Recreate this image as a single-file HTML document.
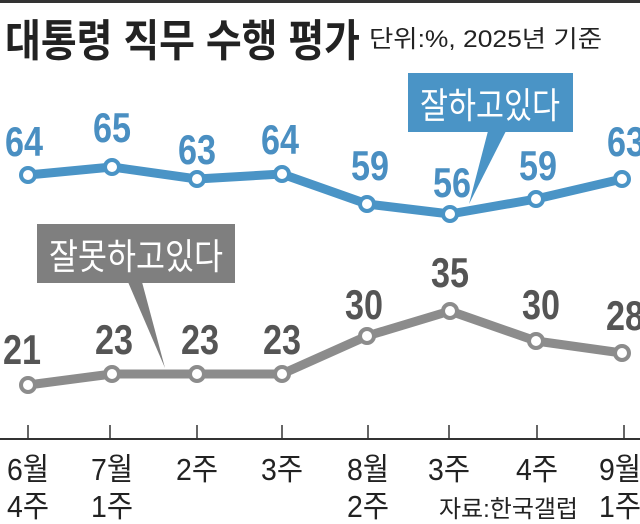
<!DOCTYPE html>
<html><head><meta charset="utf-8"><style>
html,body{margin:0;padding:0;background:#fff;}
svg{display:block;}
text{font-family:"Liberation Sans","Noto Sans CJK KR",sans-serif;}
</style></head><body>
<svg width="640" height="524" viewBox="0 0 640 524" xmlns="http://www.w3.org/2000/svg">
<rect x="0" y="0" width="640" height="3" fill="#333"/>
<text x="5" y="56" font-size="44" font-weight="bold" fill="#222" textLength="355" lengthAdjust="spacingAndGlyphs">대통령 직무 수행 평가</text>
<text x="369" y="47" font-size="24" fill="#222" textLength="233" lengthAdjust="spacingAndGlyphs">단위:%, 2025년 기준</text>

<rect x="408" y="73" width="165" height="59" fill="#4a94c6"/>
<polygon points="488,131 506,131 469,204" fill="#4a94c6"/>
<text x="490" y="118" font-size="36" fill="#fff" text-anchor="middle" textLength="140" lengthAdjust="spacingAndGlyphs">잘하고있다</text>

<rect x="37" y="224" width="198" height="59" fill="#7f7f7f"/>
<polygon points="128,282 142,282 165,368" fill="#7f7f7f"/>
<text x="136" y="269" font-size="36" fill="#fff" text-anchor="middle" textLength="174" lengthAdjust="spacingAndGlyphs">잘못하고있다</text>

<polyline points="28,175 112,167 197,179 282,174 367,204 450,214 536,199 622,179" fill="none" stroke="#4a94c6" stroke-width="9" stroke-linejoin="round"/>
<g fill="#fff" stroke="#4a94c6" stroke-width="4">
<circle cx="28" cy="175" r="7"/><circle cx="112" cy="167" r="7"/><circle cx="197" cy="179" r="7"/><circle cx="282" cy="174" r="7"/><circle cx="367" cy="204" r="7"/><circle cx="450" cy="214" r="7"/><circle cx="536" cy="199" r="7"/><circle cx="622" cy="179" r="7"/>
</g>
<g font-size="42" font-weight="bold" fill="#4a8fc2" text-anchor="middle">
<text x="24" y="156" textLength="38" lengthAdjust="spacingAndGlyphs">64</text>
<text x="112" y="142" textLength="38" lengthAdjust="spacingAndGlyphs">65</text>
<text x="197" y="164" textLength="38" lengthAdjust="spacingAndGlyphs">63</text>
<text x="280" y="154" textLength="38" lengthAdjust="spacingAndGlyphs">64</text>
<text x="370" y="180" textLength="38" lengthAdjust="spacingAndGlyphs">59</text>
<text x="452" y="197" textLength="38" lengthAdjust="spacingAndGlyphs">56</text>
<text x="538" y="180" textLength="38" lengthAdjust="spacingAndGlyphs">59</text>
<text x="626" y="156" textLength="38" lengthAdjust="spacingAndGlyphs">63</text>
</g>

<polyline points="28,385 112,374 197,374 282,374 367,336 450,311 536,341 622,353" fill="none" stroke="#8c8c8c" stroke-width="9" stroke-linejoin="round"/>
<g fill="#fff" stroke="#8c8c8c" stroke-width="4">
<circle cx="28" cy="385" r="7"/><circle cx="112" cy="374" r="7"/><circle cx="197" cy="374" r="7"/><circle cx="282" cy="374" r="7"/><circle cx="367" cy="336" r="7"/><circle cx="450" cy="311" r="7"/><circle cx="536" cy="341" r="7"/><circle cx="622" cy="353" r="7"/>
</g>
<g font-size="42" font-weight="bold" fill="#555" text-anchor="middle">
<text x="22" y="364" textLength="38" lengthAdjust="spacingAndGlyphs">21</text>
<text x="114" y="354" textLength="38" lengthAdjust="spacingAndGlyphs">23</text>
<text x="200" y="354" textLength="38" lengthAdjust="spacingAndGlyphs">23</text>
<text x="282" y="354" textLength="38" lengthAdjust="spacingAndGlyphs">23</text>
<text x="364" y="319" textLength="38" lengthAdjust="spacingAndGlyphs">30</text>
<text x="450" y="287" textLength="38" lengthAdjust="spacingAndGlyphs">35</text>
<text x="541" y="319" textLength="38" lengthAdjust="spacingAndGlyphs">30</text>
<text x="625" y="330" textLength="38" lengthAdjust="spacingAndGlyphs">28</text>
</g>

<rect x="0" y="438" width="640" height="2" fill="#333"/>
<g stroke="#333" stroke-width="1.5">
<line x1="28" y1="425" x2="28" y2="439"/><line x1="110" y1="425" x2="110" y2="439"/><line x1="197" y1="425" x2="197" y2="439"/><line x1="282" y1="425" x2="282" y2="439"/><line x1="368" y1="425" x2="368" y2="439"/><line x1="449" y1="425" x2="449" y2="439"/><line x1="537" y1="425" x2="537" y2="439"/><line x1="624" y1="425" x2="624" y2="439"/>
</g>
<g font-size="31" fill="#222" text-anchor="middle">
<text x="28" y="480" textLength="42" lengthAdjust="spacingAndGlyphs">6월</text>
<text x="28" y="517" textLength="42" lengthAdjust="spacingAndGlyphs">4주</text>
<text x="112" y="480" textLength="42" lengthAdjust="spacingAndGlyphs">7월</text>
<text x="112" y="517" textLength="42" lengthAdjust="spacingAndGlyphs">1주</text>
<text x="197" y="480" textLength="42" lengthAdjust="spacingAndGlyphs">2주</text>
<text x="282" y="480" textLength="42" lengthAdjust="spacingAndGlyphs">3주</text>
<text x="368" y="480" textLength="42" lengthAdjust="spacingAndGlyphs">8월</text>
<text x="368" y="517" textLength="42" lengthAdjust="spacingAndGlyphs">2주</text>
<text x="449" y="480" textLength="42" lengthAdjust="spacingAndGlyphs">3주</text>
<text x="537" y="480" textLength="42" lengthAdjust="spacingAndGlyphs">4주</text>
<text x="620" y="480" textLength="42" lengthAdjust="spacingAndGlyphs">9월</text>
<text x="620" y="517" textLength="42" lengthAdjust="spacingAndGlyphs">1주</text>
</g>
<text x="439" y="517" font-size="24" fill="#222" textLength="139" lengthAdjust="spacingAndGlyphs">자료:한국갤럽</text>
</svg>
</body></html>
